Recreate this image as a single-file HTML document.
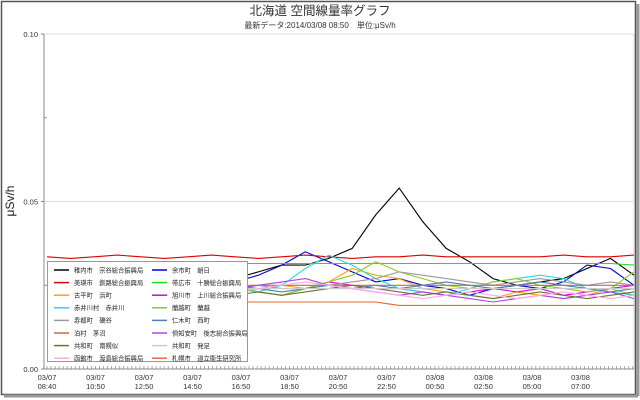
<!DOCTYPE html>
<html><head><meta charset="utf-8">
<style>
body{margin:0;background:#fff;}
#wrap{position:relative;width:640px;height:400px;overflow:hidden;background:#fff;}
svg text{font-family:"Liberation Sans","Noto Sans CJK JP",sans-serif;}
</style></head>
<body>
<div id="wrap">
<svg id="chart" width="640" height="400" xmlns="http://www.w3.org/2000/svg">
<rect x="1.5" y="1.5" width="634" height="393" fill="#fff" stroke="#555" stroke-width="1.5"/>
<line x1="4" y1="396" x2="638" y2="396" stroke="#999" stroke-width="3"/>
<line x1="638" y1="4" x2="638" y2="396" stroke="#999" stroke-width="3"/>
<text x="320" y="15" font-size="12.5" text-anchor="middle" fill="#333">北海道 空間線量率グラフ</text>
<text x="320" y="28" font-size="8" text-anchor="middle" fill="#333">最新データ:2014/03/08 08:50　単位:μSv/h</text>
<text transform="translate(14,201) rotate(-90)" font-size="12" text-anchor="middle" fill="#222">μSv/h</text>
<g id="axes"></g>
<g id="series"></g>
<g id="legend"></g>
</svg>
</div>
<script>
const tickLabels=["03/07|08:40","03/07|10:50","03/07|12:50","03/07|14:50","03/07|16:50","03/07|18:50","03/07|20:50","03/07|22:50","03/08|00:50","03/08|02:50","03/08|05:00","03/08|07:00"];
const yTicks=[0,0.05,0.10];
const names=["稚内市　宗谷総合振興局","余市町　朝日","美瑛市　釧路総合振興局","帯広市　十勝総合振興局","古平町　浜町","旭川市　上川総合振興局","赤井川村　赤井川","蘭越町　蘭越","寿都町　磯谷","仁木町　西町","泊村　茅沼","倶知安町　後志総合振興局","共和町　南幌似","共和町　発足","函館市　渡島総合振興局","札幌市　道立衛生研究所"];
const colors=["#000000","#0000dd","#dd0000","#22dd22","#ffa500","#dd00dd","#22dddd","#88cc22","#999999","#4682b4","#cc6655","#aa44ee","#667733","#cccccc","#ffaaee","#ee6633"];
const s0=[0.023,0.023,0.024,0.024,0.025,0.026,0.027,0.027,0.027,0.029,0.031,0.031,0.033,0.036,0.046,0.054,0.044,0.036,0.032,0.027,0.025,0.026,0.027,0.030,0.033,0.028];
const s1=[0.025,0.024,0.025,0.024,0.023,0.024,0.025,0.025,0.026,0.028,0.031,0.035,0.032,0.029,0.026,0.027,0.025,0.024,0.022,0.024,0.025,0.024,0.026,0.031,0.030,0.025];
const s2=[0.0335,0.033,0.0335,0.034,0.0335,0.033,0.0335,0.034,0.0335,0.033,0.0335,0.034,0.0335,0.033,0.0335,0.0335,0.034,0.0335,0.0335,0.0335,0.0335,0.0335,0.034,0.0335,0.0335,0.034];
const s3=[0.0315,0.0315,0.031,0.0315,0.0315,0.0315,0.0315,0.031,0.0315,0.0315,0.0315,0.0315,0.0315,0.0315,0.0315,0.0315,0.0315,0.0315,0.0315,0.0315,0.0315,0.0315,0.0315,0.0315,0.0315,0.031];
const s4=[0.021,0.020,0.022,0.021,0.020,0.022,0.023,0.022,0.023,0.024,0.025,0.024,0.026,0.030,0.028,0.027,0.024,0.023,0.022,0.021,0.023,0.022,0.021,0.022,0.024,0.022];
const s5=[0.025,0.024,0.025,0.023,0.024,0.025,0.024,0.023,0.024,0.023,0.022,0.024,0.026,0.025,0.024,0.024,0.023,0.022,0.023,0.024,0.023,0.024,0.022,0.023,0.024,0.025];
const s6=[0.026,0.027,0.025,0.024,0.023,0.022,0.023,0.024,0.025,0.023,0.025,0.030,0.034,0.031,0.027,0.024,0.023,0.022,0.024,0.026,0.027,0.028,0.027,0.024,0.023,0.022];
const s7=[0.022,0.023,0.024,0.025,0.024,0.023,0.022,0.023,0.024,0.023,0.022,0.024,0.026,0.028,0.032,0.029,0.027,0.025,0.024,0.026,0.027,0.025,0.024,0.023,0.024,0.029];
const s8=[0.024,0.023,0.024,0.025,0.024,0.023,0.024,0.025,0.024,0.025,0.024,0.024,0.025,0.026,0.027,0.029,0.028,0.027,0.026,0.025,0.026,0.027,0.026,0.025,0.026,0.025];
const s9=[0.023,0.024,0.025,0.026,0.025,0.024,0.025,0.024,0.025,0.024,0.023,0.024,0.025,0.024,0.025,0.024,0.025,0.026,0.025,0.024,0.025,0.026,0.025,0.024,0.023,0.024];
const s10=[0.025,0.025,0.025,0.025,0.025,0.025,0.025,0.025,0.025,0.025,0.025,0.025,0.025,0.025,0.025,0.025,0.025,0.025,0.025,0.025,0.025,0.025,0.025,0.025,0.025,0.025];
const s11=[0.024,0.023,0.022,0.023,0.024,0.023,0.022,0.023,0.024,0.025,0.026,0.027,0.025,0.024,0.023,0.022,0.023,0.022,0.021,0.020,0.021,0.022,0.021,0.022,0.023,0.021];
const s12=[0.022,0.021,0.022,0.023,0.022,0.023,0.024,0.023,0.022,0.023,0.022,0.023,0.024,0.025,0.024,0.023,0.022,0.023,0.022,0.021,0.022,0.023,0.022,0.021,0.022,0.023];
const s13=[0.024,0.024,0.024,0.024,0.024,0.024,0.024,0.024,0.024,0.024,0.024,0.024,0.024,0.024,0.024,0.024,0.024,0.024,0.024,0.024,0.024,0.024,0.024,0.024,0.024,0.024];
const s14=[0.023,0.022,0.023,0.024,0.023,0.022,0.023,0.024,0.023,0.024,0.025,0.026,0.025,0.024,0.023,0.022,0.021,0.022,0.023,0.022,0.021,0.022,0.023,0.022,0.021,0.022];
const s15=[0.020,0.020,0.020,0.020,0.020,0.020,0.020,0.020,0.020,0.020,0.020,0.020,0.020,0.020,0.020,0.019,0.019,0.019,0.019,0.019,0.019,0.019,0.019,0.019,0.019,0.019];
const series=[s0,s1,s2,s3,s4,s5,s6,s7,s8,s9,s10,s11,s12,s13,s14,s15];

const NS="http://www.w3.org/2000/svg";
const X0=47,X1=634,YT=34,YB=369,PL=44,PR=634,YMAX=0.10;
const xs=(i,n)=>X0+(X1-X0)*i/(n-1);
const ys=v=>YB-(v/YMAX)*(YB-YT);
function mk(tag,attrs,parent){const e=document.createElementNS(NS,tag);for(const k in attrs)e.setAttribute(k,attrs[k]);parent.appendChild(e);return e;}
const axes=document.getElementById('axes');
let e;
e=mk('line',{x1:PL,y1:ys(0.05),x2:PR,y2:ys(0.05),stroke:'#ddd','stroke-width':1},axes);


e=mk('line',{x1:PL,y1:YT,x2:PR,y2:YT,stroke:'#ddd','stroke-width':1},axes);


e=mk('line',{x1:PR,y1:YT,x2:PR,y2:YB,stroke:'#ddd','stroke-width':1},axes);


e=mk('line',{x1:PL,y1:YT,x2:PL,y2:YB,stroke:'#888','stroke-width':1},axes);


e=mk('line',{x1:PL,y1:YB,x2:PR,y2:YB,stroke:'#888','stroke-width':1},axes);


yTicks.forEach(v=>{
  const t=mk('text',{x:38,y:ys(v)+3,'font-size':7.5,'text-anchor':'end',fill:'#333'},axes);
  t.textContent=v.toFixed(2);
  
  
  const l=mk('line',{x1:PL-3,y1:ys(v),x2:PL,y2:ys(v),stroke:'#888'},axes);
  
  
});
[0.025,0.075].forEach(v=>{
  const l=mk('line',{x1:PL,y1:ys(v),x2:PL+3,y2:ys(v),stroke:'#888'},axes);
  
  
});
for(let x=X0;x<=PR;x+=4.04){
  const l=mk('line',{x1:x,y1:YB,x2:x,y2:YB-3,stroke:'#888','stroke-width':0.7},axes);
  
  
}
tickLabels.forEach((lb,i)=>{
  const x=X0+i*48.5;
  const p=lb.split('|');
  const t=mk('text',{x:x,y:380,'font-size':7.5,'text-anchor':'middle',fill:'#333'},axes);
  t.textContent=p[0];
  
  
  const t2=mk('text',{x:x,y:389,'font-size':7.5,'text-anchor':'middle',fill:'#333'},axes);
  t2.textContent=p[1];
  
  
});
const sg=document.getElementById('series');
series.forEach((arr,k)=>{
  const pts=arr.map((v,i)=>xs(i,arr.length).toFixed(1)+','+ys(v).toFixed(1)).join(' ');
  const pl=mk('polyline',{points:pts,fill:'none',stroke:colors[k],'stroke-width':1.1},sg);
  
  
});
const lg=document.getElementById('legend');
const box=mk('rect',{x:47.5,y:261.5,width:200,height:100,fill:'#fff',stroke:'#999'},lg);


names.forEach((nm,k)=>{
  const col=k%2,row=Math.floor(k/2);
  const x=col?152:54,y=270+row*12.6;
  const l=mk('line',{x1:x,y1:y,x2:x+15,y2:y,stroke:colors[k],'stroke-width':1.5},lg);
  
  
  const t=mk('text',{x:x+20,y:y+2.3,'font-size':6.3,fill:'#222'},lg);
  t.textContent=nm;
  
  
});
</script>
</body></html>
